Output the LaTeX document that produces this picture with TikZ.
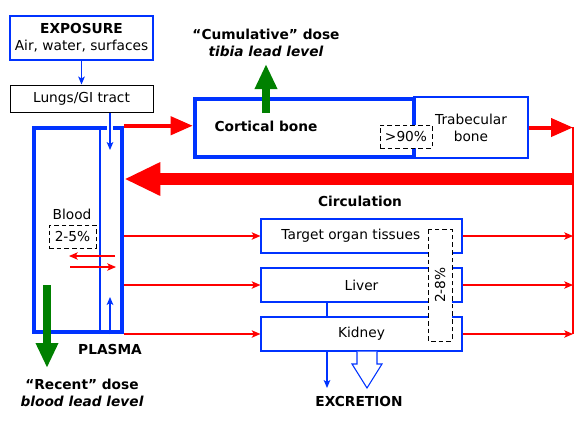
\documentclass[tikz,border=0pt]{standalone}
\usepackage{fontspec}
\setmainfont{DejaVu Sans}
\usetikzlibrary{positioning, arrows.meta, calc}
\definecolor{LeadBlue}{HTML}{0033FF}
\definecolor{LeadRed}{HTML}{FF0000}
\definecolor{LeadGreen}{HTML}{008000}
\tikzset{
    thinbox/.style={rectangle, draw=LeadBlue, line width=0.8pt, fill=white, align=center, inner sep=0pt},
    organ/.style={rectangle, draw=LeadBlue, line width=0.8pt, fill=white, inner sep=0pt, minimum width=150.75pt, minimum height=25.5pt},
    thickbox/.style={rectangle, draw=LeadBlue, line width=3.4pt, inner sep=0pt},
    pctbox/.style={rectangle, draw=black, line width=0.75pt, dash pattern=on 3.5pt off 2.25pt, fill=white, inner sep=0pt},
    bluearr/.style={-{Stealth[length=6pt, width=5pt, inset=1.5pt]}, line width=0.8pt, color=LeadBlue},
    blueline/.style={line width=0.8pt, color=LeadBlue},
    flowthin/.style={-{Stealth[length=6.5pt, width=5.5pt, inset=1.5pt]}, line width=1pt, color=LeadRed},
    redline/.style={line width=1pt, color=LeadRed},
    bonearr/.style={-{Triangle[length=16.5pt, width=13.5pt]}, line width=3pt, color=LeadRed},
    returnarr/.style={-{Triangle[length=27pt, width=23.25pt]}, line width=9pt, color=LeadRed},
    dosearr/.style={-{Triangle[length=18.75pt, width=15.75pt]}, line width=5.4pt, color=LeadGreen}
}
\begin{document}
\fontsize{10.3}{12.8}\selectfont
\begin{tikzpicture}[
        x=0.75pt, y=-0.75pt,
        boldlbl/.style={font=\bfseries, align=center},
        dosebox/.style={font=\bfseries, align=center}
    ]
    \useasboundingbox (0,0) rectangle (584,426);

    % --- EXPOSURE ---
    \node[thinbox, minimum width=107.25pt, minimum height=33pt] (expo) at (81.5,38) {\textbf{EXPOSURE}\\Air, water, surfaces};
    \node[thinbox, draw=black, line width=0.75pt, minimum width=107.25pt, minimum height=20.25pt] (lungs) at (81.5,98.5) {Lungs/GI tract};
    \draw[bluearr] (expo) -- (lungs);

    % --- PLASMA ---
    \node[thickbox, minimum width=66pt, minimum height=153pt] (plasma) at (78,230) {};
    \node (blood) at (72,214) {Blood};
    \node[pctbox, minimum width=35.25pt, minimum height=17.25pt] (pctblood) at (72.5,236.5) {2-5\%};
    \node[boldlbl] (plasmalbl) at (110,349) {PLASMA};
    \coordinate (rbcline) at (100,0);
    \coordinate (inlet) at (110,150);
    \coordinate (uptip) at (110,297);
    \draw[blueline] (plasma.north -| rbcline) -- (plasma.south -| rbcline);
    \draw[white, line width=4.5pt] (110,123) -- (110,132);
    \draw[bluearr] (lungs.south -| inlet) -- (inlet);
    \draw[bluearr] (plasma.south -| uptip) -- (uptip);
    \coordinate (outA) at (115,256);
    \coordinate (outB) at (69,256);
    \coordinate (inA) at (70,267);
    \coordinate (inB) at (116,267);
    \draw[flowthin] (outA) -- (outB);
    \draw[flowthin] (inA) -- (inB);

    % --- BONE ---
    \node[thinbox, minimum width=85.5pt, minimum height=45.75pt] (trabec) at (471,127.5) {Trabecular\\bone};
    \node[thickbox, minimum width=164.25pt, minimum height=43.5pt] (cortical) at (304.5,128) {};
    \node[boldlbl] (cortlbl) at (266,126) {Cortical bone};
    \node[pctbox, minimum width=39pt, minimum height=17.25pt] (pctbone) at (406,136.5) {>90\%};
    \draw[bonearr] (plasma.north east) -- (plasma.north east -| cortical.west);

    % --- CIRCULATION ---
    \coordinate (circtop) at (573,127);
    \coordinate (circbot) at (573,334);
    \coordinate (circret) at (573,179);
    \draw[bonearr] (trabec.east) -- (trabec.east -| circtop);
    \draw[redline] (circtop) -- (circbot);
    \draw[returnarr] (circret) -- (circret -| plasma.east);
    \node[boldlbl] (circlbl) at (360,201) {Circulation};

    % --- SOFT TISSUES ---
    \node[organ] (target) at (361.5,236) {Target organ tissues\hspace*{16pt}};
    \node[organ] (liver) at (361.5,285) {Liver};
    \node[organ] (kidney) at (361.5,334) {Kidney};
    \node[pctbox, rotate=90, minimum width=84pt, minimum height=18pt] (pctsoft) at (440,285) {2-8\%};
    \foreach \organ in {target, liver, kidney} {
        \draw[flowthin] (plasma.east |- \organ.west) -- (\organ.west);
        \draw[flowthin] (\organ.east) -- (\organ.east -| circtop);
    }

    % --- EXCRETION ---
    \coordinate (bile) at (327,0);
    \coordinate (urine) at (327,388);
    \draw[blueline] (liver.south -| bile) -- (kidney.north -| bile);
    \draw[bluearr] (kidney.south -| urine) -- (urine);
    \draw[LeadBlue, fill=white, line width=0.8pt] (357,351.5) -- (357,364) -- (352,364) -- (367,388) -- (382,364) -- (377,364) -- (377,351.5);
    \node[boldlbl] (excr) at (359,401) {EXCRETION};

    % --- DOSE MARKERS ---
    \coordinate (tibiabase) at (266,113);
    \coordinate (tibiatip) at (266,64);
    \draw[dosearr] (tibiabase) -- (tibiatip);
    \node[dosebox] (cumul) at (266,42.5) {``Cumulative'' dose\\\itshape tibia lead level};
    \coordinate (bloodbase) at (47,285);
    \coordinate (bloodtip) at (47,368);
    \draw[dosearr] (bloodbase) -- (bloodtip);
    \node[dosebox] (recent) at (82,392.5) {``Recent'' dose\\\itshape blood lead level};

\end{tikzpicture}
\end{document}
